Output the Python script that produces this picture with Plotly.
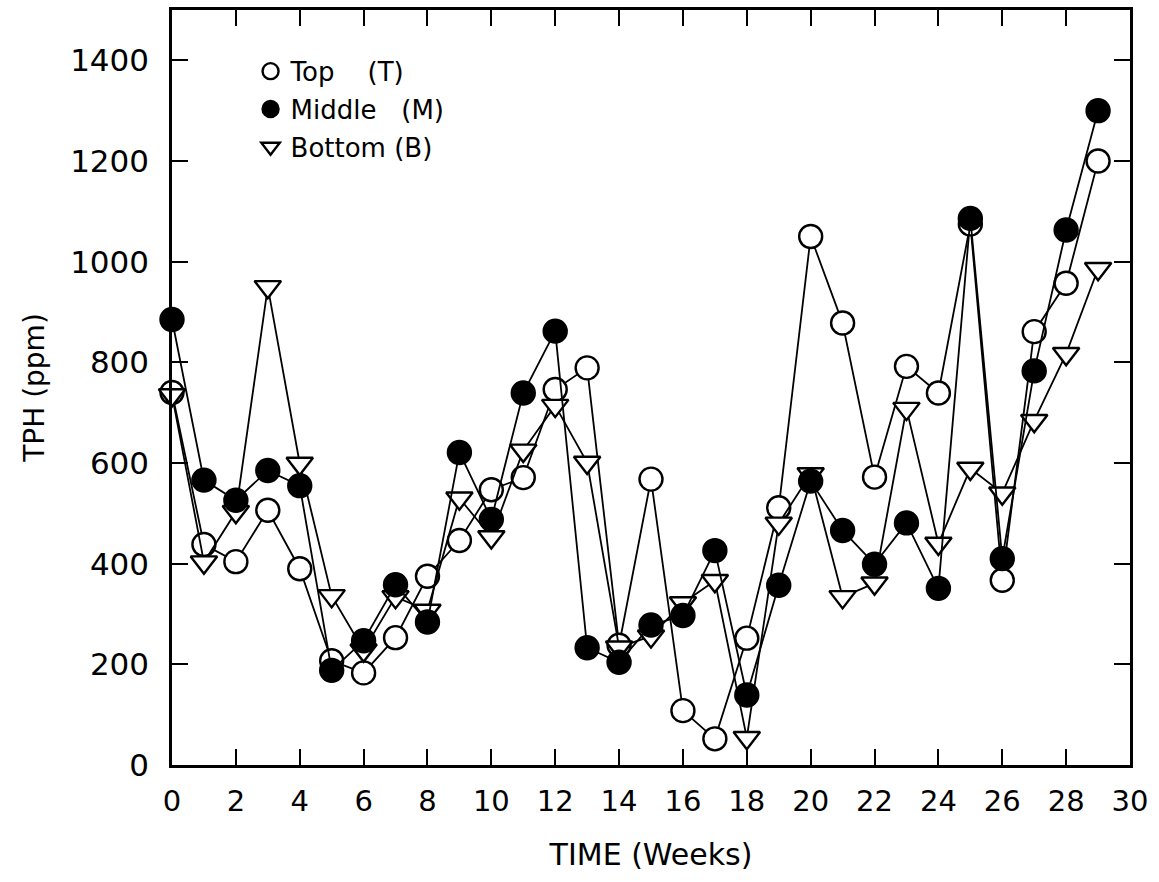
import plotly.graph_objects as go

weeks = list(range(30))
top_T = [740, 438, 404, 506, 390, 207, 183, 253, 375, 446, 547, 571, 746, 789, 238, 568,
         108, 52, 252, 511, 1050, 878, 572, 792, 739, 1075, 367, 861, 957, 1200]
middle_M = [885, 566, 526, 585, 555, 188, 247, 358, 284, 621, 488, 739, 862, 233, 204, 278,
            297, 426, 139, 357, 564, 466, 399, 481, 351, 1086, 410, 783, 1063, 1300]
bottom_B = [735, 403, 503, 950, 599, 336, 228, 334, 307, 530, 453, 625, 714, 601, 234, 256,
            322, 366, 54, 480, 578, 334, 361, 708, 440, 589, 540, 684, 817, 986]

x_ticks = list(range(0, 31, 2))
y_ticks = list(range(0, 1401, 200))

FONT = "DejaVu Sans"
fig = go.Figure()

line = dict(color="black", width=1.8)
series = [
    ("Top\u00a0\u00a0\u00a0\u00a0(T)", top_T, dict(symbol="circle", size=23, color="white",
                                       line=dict(color="black", width=2.4)), 1),
    ("Bottom\u00a0(B)", bottom_B, dict(symbol="triangle-down", size=23, color="white",
                                       line=dict(color="black", width=2.4)), 3),
    ("Middle\u00a0\u00a0\u00a0(M)", middle_M, dict(symbol="circle", size=23, color="black",
                                       line=dict(color="black", width=2.4)), 2),
]
for name, vals, mk, rank in series:
    fig.add_trace(go.Scatter(x=weeks, y=vals, mode="lines+markers", line=line,
                             marker=mk, showlegend=False, cliponaxis=False))
for name, vals, mk, rank in series:
    fig.add_trace(go.Scatter(x=[None], y=[None], mode="markers", marker=mk,
                             name=name, legendrank=rank, legendgroup=name))

axis_common = dict(showline=True, linecolor="black", linewidth=2.5, mirror="ticks",
                   ticks="inside", ticklen=16, tickwidth=2, tickcolor="black",
                   showgrid=False, zeroline=False)

fig.update_xaxes(range=[0, 30], tickvals=x_ticks, ticktext=[str(v) for v in x_ticks],
                 ticklabelstandoff=8,
                 tickfont=dict(family=FONT, size=29, color="black"),
                 title=dict(text="TIME (Weeks)", font=dict(family=FONT, size=30, color="black"),
                            standoff=28),
                 **axis_common)
fig.update_yaxes(range=[0, 1500], tickvals=y_ticks, ticktext=[str(v) for v in y_ticks],
                 ticklabelstandoff=14,
                 tickfont=dict(family=FONT, size=31, color="black"),
                 title=dict(text="TPH (ppm)", font=dict(family=FONT, size=28, color="black"),
                            standoff=18),
                 **axis_common)

fig.update_layout(
    width=1159, height=882,
    margin=dict(l=172, r=29, t=7, b=117),
    plot_bgcolor="white", paper_bgcolor="white",
    legend=dict(x=0.082, y=0.95, xanchor="left", yanchor="top",
                traceorder="grouped", tracegroupgap=1,
                bgcolor="rgba(0,0,0,0)", font=dict(family=FONT, size=26, color="black"),
                itemwidth=30),
)

fig.write_html("out.html")
